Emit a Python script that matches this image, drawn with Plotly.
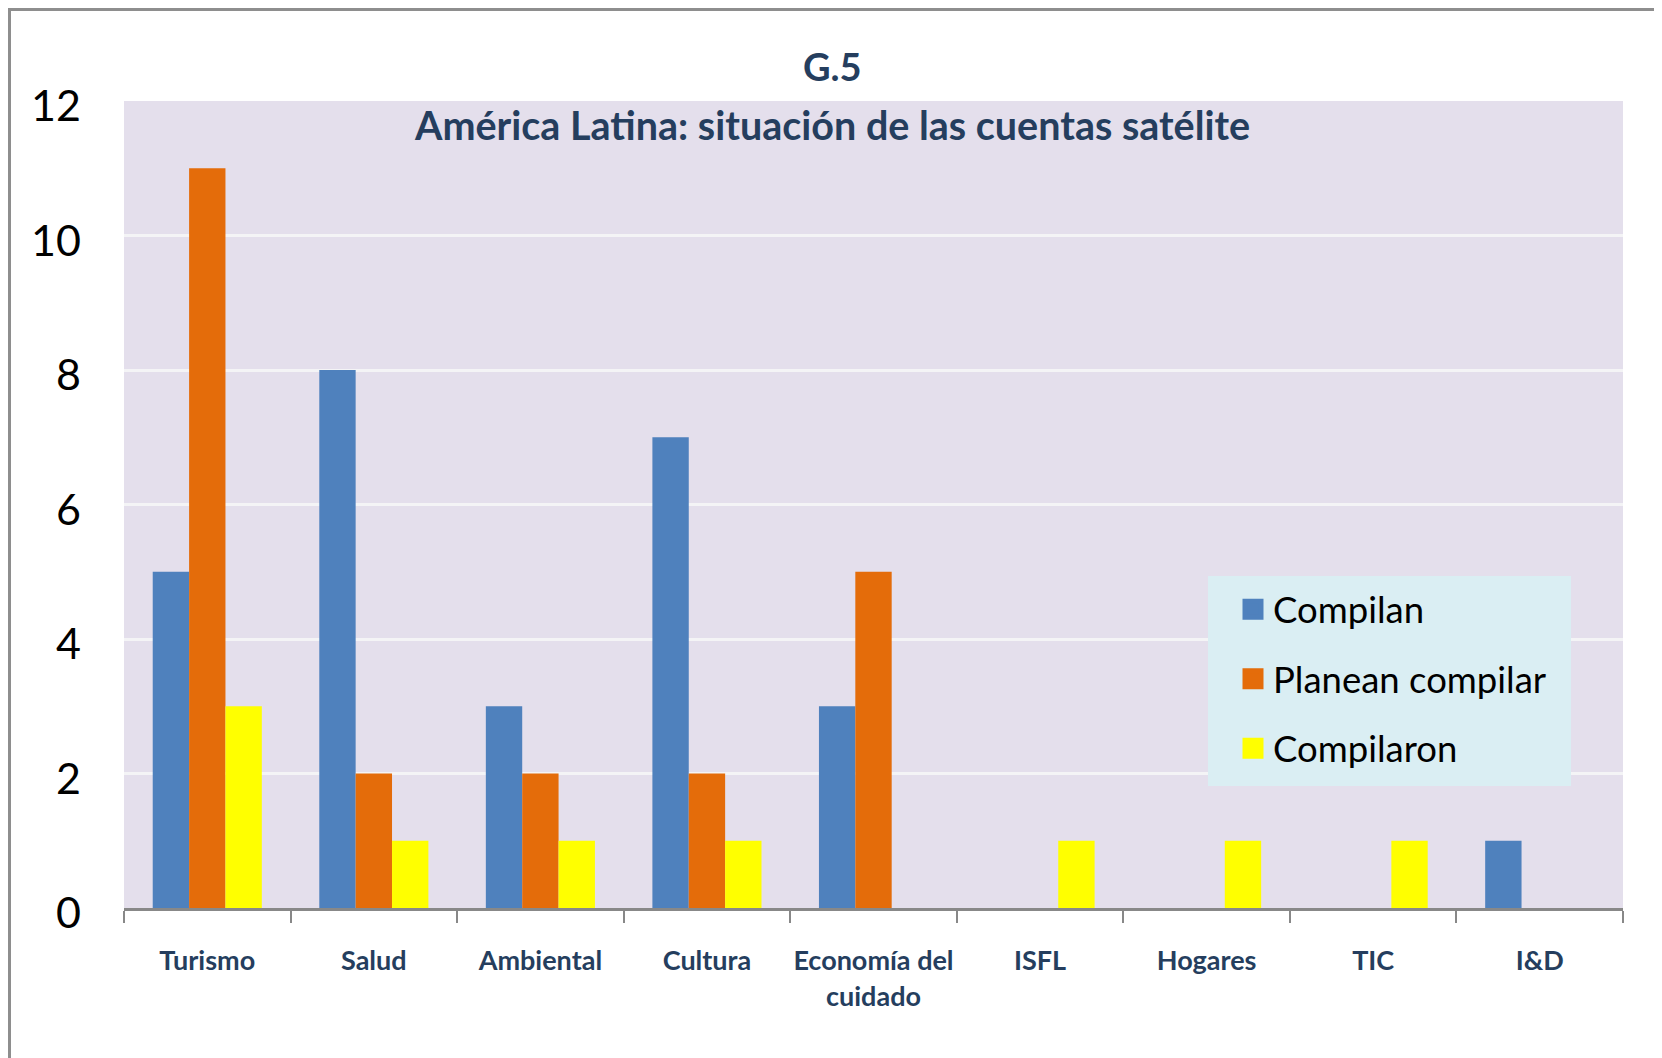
import plotly.graph_objects as go

categories = ["Turismo", "Salud", "Ambiental", "Cultura", "Economía del<br>cuidado",
              "ISFL", "Hogares", "TIC", "I&D"]
compilan = [5, 8, 3, 7, 3, 0, 0, 0, 1]
planean_compilar = [11, 2, 2, 2, 5, 0, 0, 0, 0]
compilaron = [3, 1, 1, 1, 0, 1, 1, 1, 0]
series_names = ["Compilan", "Planean compilar", "Compilaron"]
series_colors = ["#4F81BD", "#E46C0A", "#FFFF00"]
y_ticks = [0, 2, 4, 6, 8, 10, 12]

OFF = 8  # page body margin in the browser
W, H = 1662 - OFF, 1058 - OFF
L, R, T, B = 124, 1623, 101, 908  # plot area in screen pixels


def px_x(p):
    return (p - L) / (R - L)


def px_y(p):
    return (B - p) / (B - T)


fig = go.Figure()
for name, vals, col in zip(series_names, [compilan, planean_compilar, compilaron], series_colors):
    fig.add_trace(go.Bar(x=categories, y=vals, name=name, marker_color=col,
                         marker_line_width=0, showlegend=False))
# legend proxies (larger square symbols)
for i, (name, col) in enumerate(zip(series_names, series_colors)):
    fig.add_trace(go.Scatter(x=[None], y=[None], mode="markers", name=name,
                             legendgroup=f"g{i}",
                             marker=dict(symbol="square", size=16, color=col,
                                         line=dict(width=5, color=col))))

navy = "#253E5E"
fig.update_layout(
    width=W, height=H,
    margin=dict(l=L - OFF, r=W - (R - OFF), t=T - OFF, b=H - (B - OFF), autoexpand=False),
    paper_bgcolor="white",
    plot_bgcolor="#E4DFEC",
    font=dict(family="Lato, sans-serif"),
    barmode="group",
    bargap=0.345,
    bargroupgap=0,
    showlegend=True,
    legend=dict(x=px_x(1233), y=px_y(579), xanchor="left", yanchor="top",
                bgcolor="rgba(0,0,0,0)", traceorder="grouped", tracegroupgap=19,
                font=dict(size=36.5, color="black", family="Lato, sans-serif")),
    shapes=[
        dict(type="rect", xref="paper", yref="paper",
             x0=px_x(1208), x1=px_x(1571), y0=px_y(786), y1=px_y(576),
             fillcolor="#DAEEF3", line=dict(width=0), layer="above"),
        dict(type="rect", xref="paper", yref="paper",
             x0=px_x(OFF + 1.5), x1=px_x(1656), y0=px_y(1080), y1=px_y(OFF + 1.5),
             fillcolor="rgba(0,0,0,0)", line=dict(width=3, color="#8E8E8E"), layer="above"),
    ],
    annotations=[
        dict(text="<b>G.5</b>", xref="paper", yref="paper", x=px_x(832), y=px_y(66),
             xanchor="center", yanchor="middle", showarrow=False,
             font=dict(size=38, color=navy, family="Lato, sans-serif")),
        dict(text="<b>América Latina: situación de las cuentas satélite</b>",
             xref="paper", yref="paper", x=px_x(832), y=px_y(125),
             xanchor="center", yanchor="middle", showarrow=False,
             font=dict(size=39.5, color=navy, family="Lato, sans-serif")),
    ],
)

fig.update_xaxes(
    showgrid=False, showline=True, linecolor="#888888", linewidth=3,
    ticks="outside", tickson="boundaries", ticklen=12, tickwidth=2, tickcolor="#888888",
    tickfont=dict(size=27, color=navy, family="Lato, sans-serif"),
    ticklabelstandoff=27, tickangle=0, automargin=False,
    tickprefix="<b>", ticksuffix="</b>",
)
fig.update_yaxes(
    range=[0, 12], tickvals=y_ticks, showgrid=True, gridcolor="#F4F4F6", gridwidth=3,
    zeroline=False, showline=False, ticks="", automargin=False,
    tickfont=dict(size=43, color="black", family="Lato, sans-serif"),
    ticklabelstandoff=42, ticklabelshift=5,
)

fig.write_html("out.html")
